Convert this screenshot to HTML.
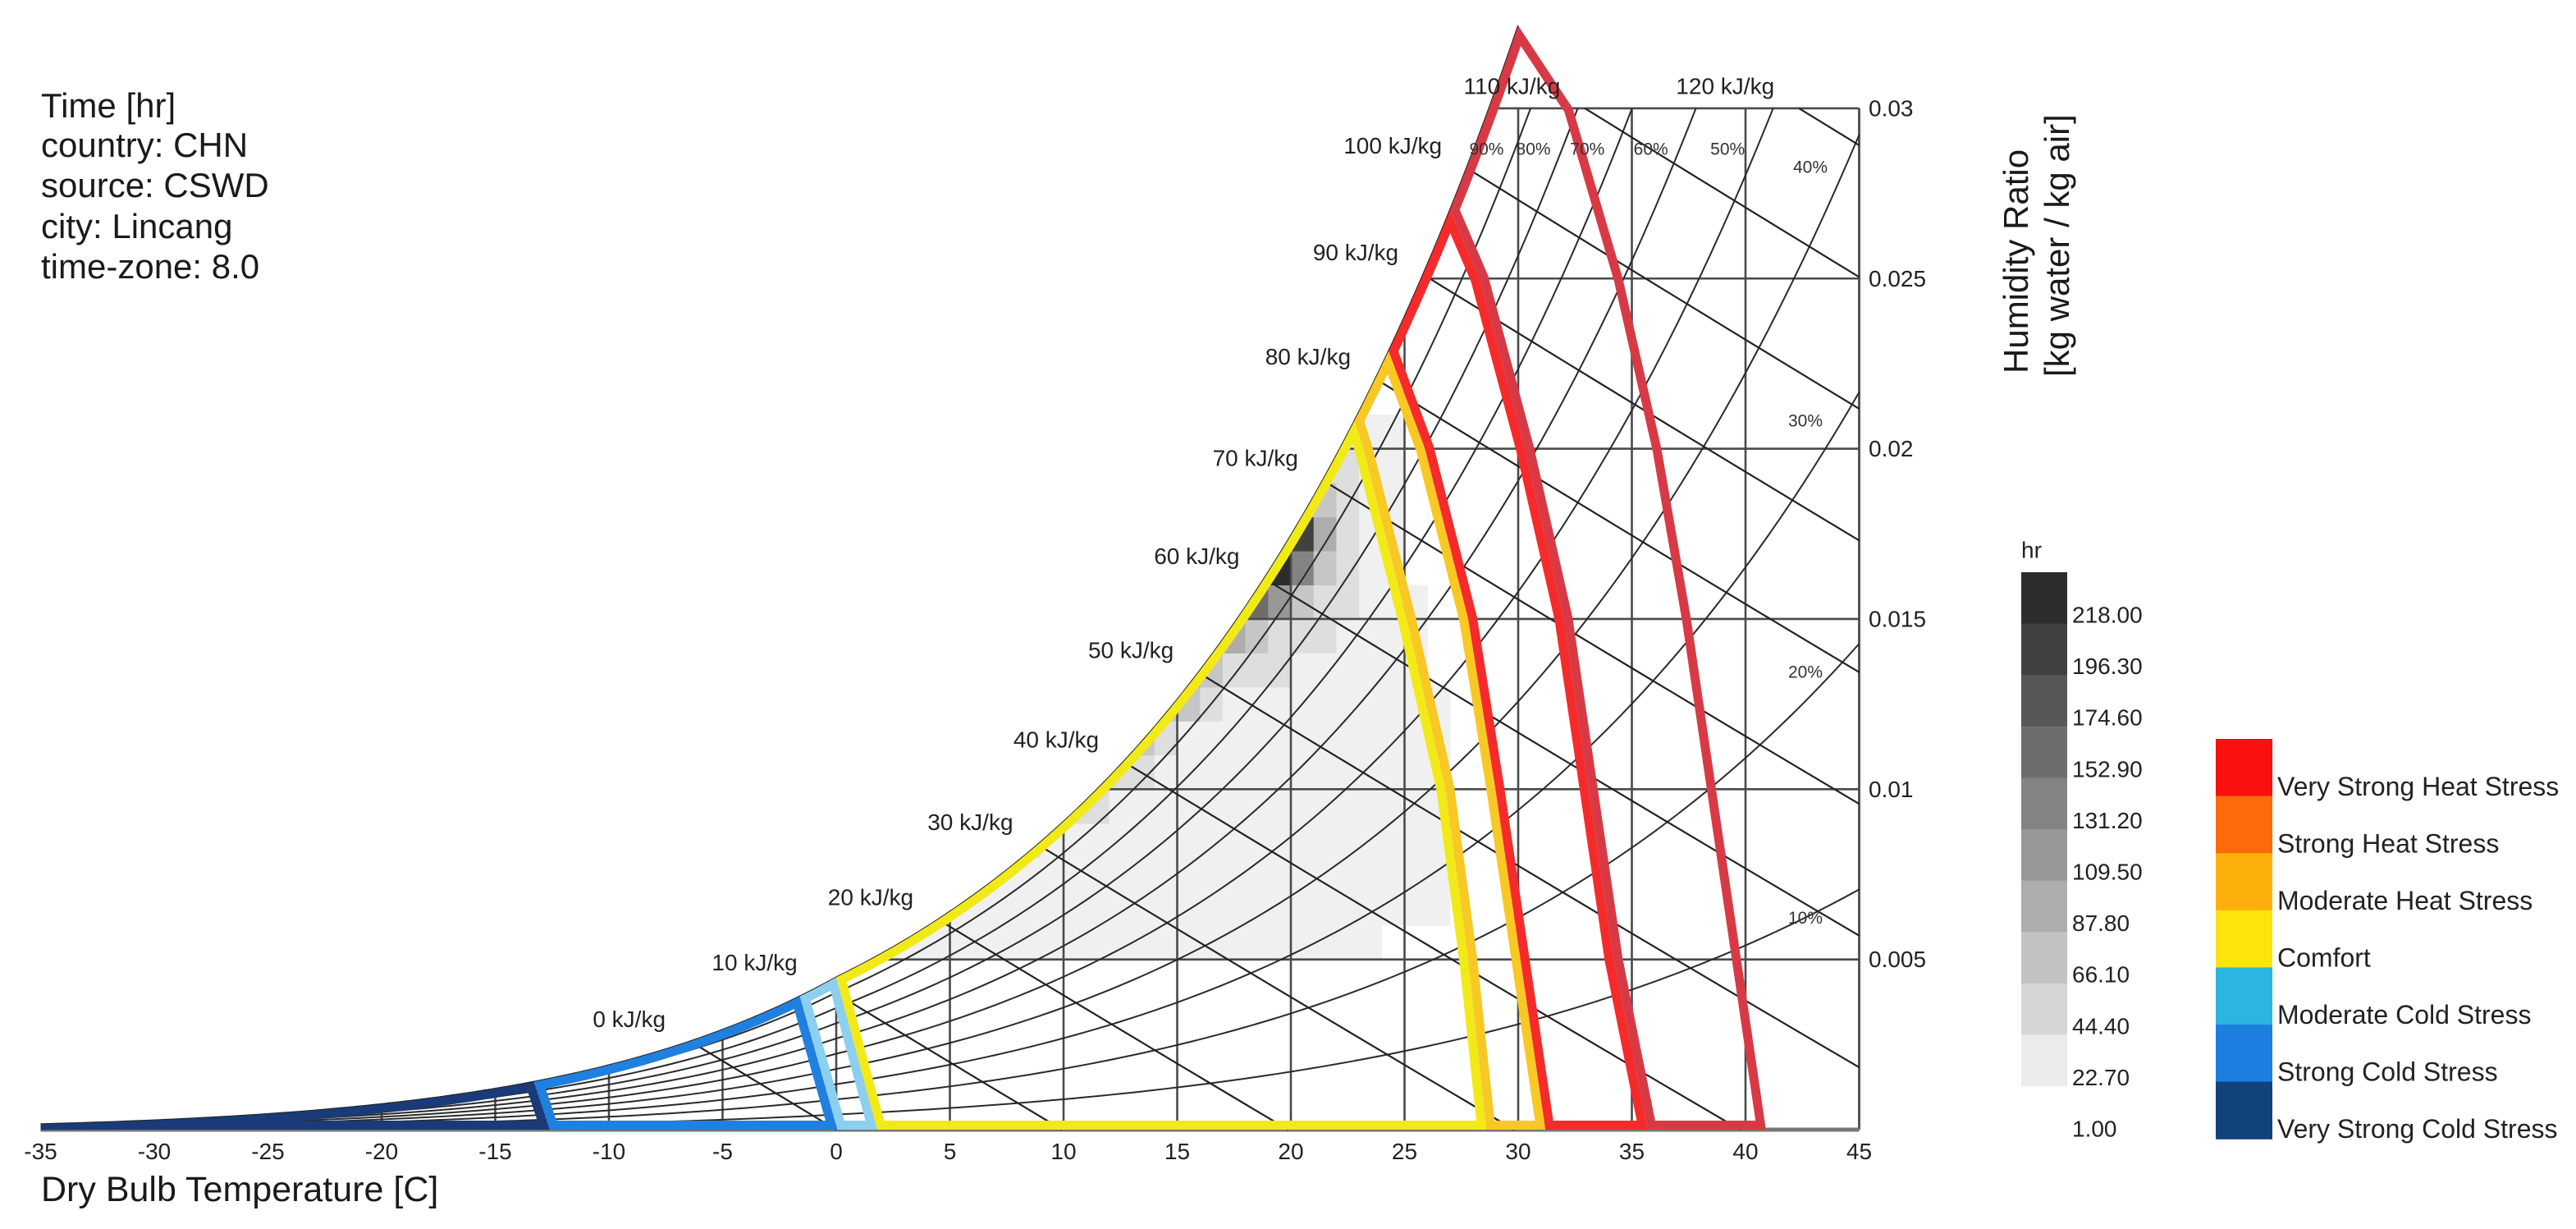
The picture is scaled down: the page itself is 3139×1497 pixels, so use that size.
<!DOCTYPE html>
<html><head><meta charset="utf-8"><title>Psychrometric chart - Lincang</title>
<style>
html,body{margin:0;padding:0;background:#fff;}
svg{display:block;font-family:"Liberation Sans",Arial,sans-serif;}
</style></head>
<body>
<svg id="chart" xmlns="http://www.w3.org/2000/svg" width="3139" height="1497" viewBox="0 0 3139 1497">
<rect width="3139" height="1497" fill="#fff"/>
<defs><clipPath id="satClip"><polygon id="satClipPoly" points=""/></clipPath></defs>
<g id="heat" clip-path="url(#satClip)"></g>
<g id="grid"></g>
<g id="rh"></g>
<g id="enth"></g>
<g id="regions"></g>
<g id="labels"></g>
<g font-size="42" fill="#1a1a1a">
<text x="50" y="143">Time [hr]</text>
<text x="50" y="191">country: CHN</text>
<text x="50" y="240">source: CSWD</text>
<text x="50" y="290">city: Lincang</text>
<text x="50" y="339">time-zone: 8.0</text>
</g>
<text x="50" y="1463" font-size="43" fill="#1a1a1a">Dry Bulb Temperature [C]</text>
<text transform="translate(2471,455) rotate(-90)" font-size="42" fill="#1a1a1a">Humidity Ratio</text>
<text transform="translate(2521,459) rotate(-90)" font-size="42" fill="#1a1a1a">[kg water / kg air]</text>
<g id="cbar"></g>
<g id="legend"></g>
</svg>
<script>
// ---- data ----
const xTicks = [-35,-30,-25,-20,-15,-10,-5,0,5,10,15,20,25,30,35,40,45];
const yTicks = [0.005,0.01,0.015,0.02,0.025,0.03];
const yTickLabels = ["0.005","0.01","0.015","0.02","0.025","0.03"];
const rhLevels = [0.1,0.2,0.3,0.4,0.5,0.6,0.7,0.8,0.9];
const enthalpyLevels = [0,10,20,30,40,50,60,70,80,90,100,110,120];
const heatTStart = 1;
const heatWStart = 0.005;
const heatHours = [
[6,8,10,10,9,8,7,6,6,5,5,5,4,4,4,3,3,3,2,2,2,1,1,0,0,0,0,0,0],
[0,0,0,18,14,12,10,9,8,8,8,7,7,6,6,6,5,5,5,4,4,3,3,2,2,1,0,0,0],
[0,0,0,0,0,25,18,12,10,10,10,10,9,9,8,8,8,7,7,6,6,5,5,4,3,2,0,0,0],
[0,0,0,0,0,0,0,30,22,15,12,12,12,12,11,11,10,10,10,9,9,8,7,6,5,4,0,0,0],
[0,0,0,0,0,0,0,0,0,35,25,16,14,14,14,14,14,13,13,12,12,10,9,8,6,5,0,0,0],
[0,0,0,0,0,0,0,0,0,0,0,40,28,18,16,16,16,16,16,16,15,13,12,10,8,6,0,0,0],
[0,0,0,0,0,0,0,0,0,0,0,0,45,35,22,18,18,18,18,18,17,15,13,11,9,7,0,0,0],
[0,0,0,0,0,0,0,0,0,0,0,0,0,55,45,28,22,20,20,20,18,16,14,12,10,8,0,0,0],
[0,0,0,0,0,0,0,0,0,0,0,0,0,0,70,60,40,28,24,22,20,18,16,13,10,0,0,0,0],
[0,0,0,0,0,0,0,0,0,0,0,0,0,0,0,90,80,55,35,28,24,20,17,14,11,0,0,0,0],
[0,0,0,0,0,0,0,0,0,0,0,0,0,0,0,0,130,150,100,50,30,24,18,15,11,0,0,0,0],
[0,0,0,0,0,0,0,0,0,0,0,0,0,0,0,0,0,190,205,120,45,28,20,15,0,0,0,0,0],
[0,0,0,0,0,0,0,0,0,0,0,0,0,0,0,0,0,0,215,180,70,35,22,16,0,0,0,0,0],
[0,0,0,0,0,0,0,0,0,0,0,0,0,0,0,0,0,0,0,60,45,30,20,14,0,0,0,0,0],
[0,0,0,0,0,0,0,0,0,0,0,0,0,0,0,0,0,0,0,0,30,24,16,12,0,0,0,0,0],
[0,0,0,0,0,0,0,0,0,0,0,0,0,0,0,0,0,0,0,0,0,15,12,8,0,0,0,0,0]
];
const cbarLabels = ["218.00","196.30","174.60","152.90","131.20","109.50","87.80","66.10","44.40","22.70","1.00"];
const cbarThresholds = [1,22.7,44.4,66.1,87.8,109.5,131.2,152.9,174.6,196.3,218];
const cbarColors = ["#ebebeb","#d6d6d6","#c2c2c2","#adadad","#989898","#838383","#6d6d6d","#575757","#414141","#2d2d2d"];
const heatColors = ["#f0f0f0","#dedede","#c6c6c6","#adadad","#989898","#838383","#6d6d6d","#575757","#414141","#2d2d2d"];
const legendNames = ["Very Strong Heat Stress","Strong Heat Stress","Moderate Heat Stress","Comfort","Moderate Cold Stress","Strong Cold Stress","Very Strong Cold Stress"];
const legendColors = ["#fb1010","#fd6a0c","#fdb00c","#fde40c","#2cb5e0","#1c7fe0","#12427c"];
const bndSatT = [-35,-13.3,-1.6,0,22.8,24.3,27.0,30.0];
const bndPts = [
 [[0,-35]],
 [[0,-12.6]],
 [[0,0.05]],
 [[0,1.8]],
 [[0.02,23.2],[0.015,25.1],[0.01,26.8],[0.005,27.8],[0,28.6]],
 [[0.02,25.9],[0.015,27.8],[0.01,29.0],[0.005,30.1],[0,31.2]],
 [[0.025,28.3],[0.02,30.3],[0.015,32.0],[0.01,33.1],[0.005,34.2],[0,35.7]],
 [[0.03,32.4],[0.025,34.6],[0.02,36.3],[0.015,37.6],[0.01,38.7],[0.005,39.8],[0,40.9]]
];
const regionNames = ["very-strong-cold","strong-cold","moderate-cold","comfort","moderate-heat","strong-heat","very-strong-heat"];
const regionColors = ["#1a3a78","#1f80e0","#8ccfef","#f2ea18","#f8c825","#f52b2b","#d83a45"];

const P = 85.5;
function X(T){return 1850+(T-30)*27.7;}
function Y(W){return 1376-W*41470;}
function pws(T){return T>=0?0.61094*Math.exp(17.625*T/(T+243.04)):0.61115*Math.exp(22.452*T/(272.55+T));}
function wAt(T,rh){const pv=rh*pws(T);return 0.622*pv/(P-pv);}
function tForW(W,rh){let a=-45,b=60;for(let i=0;i<60;i++){const m=(a+b)/2;if(wAt(m,rh)<W)a=m;else b=m;}return (a+b)/2;}
function hAt(T,W){return 1.006*T+W*(2501+1.86*T);}
function tSatForH(h){let a=-45,b=60;for(let i=0;i<60;i++){const m=(a+b)/2;if(hAt(m,wAt(m,1))<h)a=m;else b=m;}return (a+b)/2;}
const NS="http://www.w3.org/2000/svg";
function mk(tag,attrs,parent){const e=document.createElementNS(NS,tag);for(const k in attrs)e.setAttribute(k,attrs[k]);parent.appendChild(e);return e;}
const gHeat=document.getElementById('heat'),gGrid=document.getElementById('grid'),gRh=document.getElementById('rh'),gEn=document.getElementById('enth'),gReg=document.getElementById('regions'),gLab=document.getElementById('labels'),gCb=document.getElementById('cbar'),gLg=document.getElementById('legend');
const defs=document.querySelector('defs');

{let pts=[];for(let T=-35;T<=32;T+=0.25)pts.push(X(T)+','+Y(wAt(T,1)));pts.push(X(45)+','+Y(0.0325));pts.push(X(45)+','+Y(0));pts.push(X(-35)+','+Y(0));document.getElementById('satClipPoly').setAttribute('points',pts.join(' '));}

function colorFor(v){if(v<cbarThresholds[0])return null;let b=0;for(let i=0;i<10;i++){if(v>=cbarThresholds[i])b=i;}return heatColors[b];}
heatHours.forEach((row,r)=>{row.forEach((v,c)=>{const col=colorFor(v);if(!col)return;
 const T0=heatTStart+c,W0=heatWStart+r*0.001;
 const e=mk('rect',{x:X(T0),y:Y(W0+0.001),width:X(T0+1)-X(T0)+0.5,height:Y(W0)-Y(W0+0.001)+0.5,fill:col},gHeat);
 
 
});});

for(let T=-30;T<=40;T+=5){const Wtop=Math.min(wAt(T,1),0.03);
 const e=mk('line',{x1:X(T),y1:Y(0),x2:X(T),y2:Y(Wtop),stroke:'#4a4a4a','stroke-width':2.6},gGrid);
 
 }
{const e=mk('line',{x1:X(45),y1:Y(0),x2:X(45),y2:Y(0.03),stroke:'#555','stroke-width':3},gGrid);
 
 }
{const e=mk('line',{x1:X(-35),y1:Y(0),x2:X(45),y2:Y(0),stroke:'#777','stroke-width':5},gGrid);
 
 }
yTicks.forEach((W,i)=>{const e=mk('line',{x1:X(tForW(W,1)),y1:Y(W),x2:X(45),y2:Y(W),stroke:'#4a4a4a','stroke-width':2.6},gGrid);
 
 
 const t=mk('text',{x:2277,y:Y(W),'font-size':28,fill:'#222','dominant-baseline':'central'},gLab);t.textContent=yTickLabels[i];
 
 });
xTicks.forEach(T=>{const t=mk('text',{x:X(T),y:1412,'font-size':28,fill:'#222','text-anchor':'middle'},gLab);t.textContent=String(T);
 
 });

rhLevels.forEach(rh=>{let pts=[];
 for(let T=-35;T<=45.001;T+=0.5){const W=wAt(T,rh);if(W>0.03){const Tc=tForW(0.03,rh);pts.push(X(Tc)+','+Y(0.03));break;}pts.push(X(T)+','+Y(W));}
 const e=mk('polyline',{points:pts.join(' '),fill:'none',stroke:'#2a2a2a','stroke-width':2},gRh);
 
 
 const pct=Math.round(rh*100)+'%';let lx,ly;
 if(rh>=0.4){const Tl=tForW(0.0285,rh);lx=Math.min(X(Tl)-30,2206);ly=rh>=0.5?182:204;}
 else{lx=2200;ly=Y(wAt(45,rh))+35;}
 const t=mk('text',{x:lx,y:ly,'font-size':21,fill:'#333','text-anchor':'middle','dominant-baseline':'central'},gLab);t.textContent=pct;
 
 });
{let pts=[];for(let T=-35;T<=30.001;T+=0.25)pts.push(X(T)+','+Y(wAt(T,1)));
 const e=mk('polyline',{points:pts.join(' '),fill:'none',stroke:'#222','stroke-width':2},gRh);
 
 }

enthalpyLevels.forEach(h=>{let Ts=tSatForH(h),Ws=wAt(Ts,1);
 if(Ws>0.03){Ws=0.03;Ts=(h-2501*0.03)/(1.006+1.86*0.03);}
 let Te=h/1.006;if(Te>45){Te=45;}
 let pts=[];for(let k=0;k<=10;k++){const T=Ts+(Te-Ts)*k/10;const W=Math.max(0,(h-1.006*T)/(2501+1.86*T));pts.push(X(T)+','+Y(W));}
 const e=mk('polyline',{points:pts.join(' '),fill:'none',stroke:'#222','stroke-width':2.2},gEn);
 
 
 const t=mk('text',{x:X(Ts)-30,y:Y(Ws)-27,'font-size':28,fill:'#222','text-anchor':'end','dominant-baseline':'central'},gLab);t.textContent=h+' kJ/kg';
 
 });

function bndPoints(i){const arr=[[X(bndSatT[i]),Y(wAt(bndSatT[i],1))]];bndPts[i].forEach(p=>arr.push([X(p[1]),Y(p[0])]));return arr;}
for(let r=0;r<7;r++){
 let pts=[];
 for(let T=bndSatT[r];T<bndSatT[r+1];T+=0.25)pts.push([X(T),Y(wAt(T,1))]);
 bndPoints(r+1).forEach(p=>pts.push(p));
 bndPoints(r).reverse().forEach(p=>pts.push(p));
 const s=pts.map(p=>p[0].toFixed(1)+','+p[1].toFixed(1)).join(' ');
 const cp=mk('clipPath',{id:'rc'+r},defs);mk('polygon',{points:s},cp);
 const e=mk('polygon',{points:s,fill:'none',stroke:regionColors[r],'stroke-width':22,'stroke-linejoin':'round','clip-path':'url(#rc'+r+')'},gReg);
 
 
}

{const t=mk('text',{x:2463,y:670,'font-size':28,fill:'#222','dominant-baseline':'central'},gCb);t.textContent='hr';
 
 }
for(let i=0;i<10;i++){const e=mk('rect',{x:2463,y:697+i*62.6,width:56,height:63,fill:cbarColors[9-i]},gCb);
 
 }
cbarLabels.forEach((s,i)=>{const t=mk('text',{x:2525,y:749+i*62.6,'font-size':28,fill:'#222','dominant-baseline':'central'},gCb);t.textContent=s;
 
 });

legendNames.forEach((n,i)=>{const e=mk('rect',{x:2700,y:900+i*69.6,width:69,height:70.2,fill:legendColors[i]},gLg);
 
 
 const t=mk('text',{x:2775,y:958+i*69.5,'font-size':32,fill:'#222','dominant-baseline':'central'},gLg);t.textContent=n;
 
 });
</script>
</body></html>
